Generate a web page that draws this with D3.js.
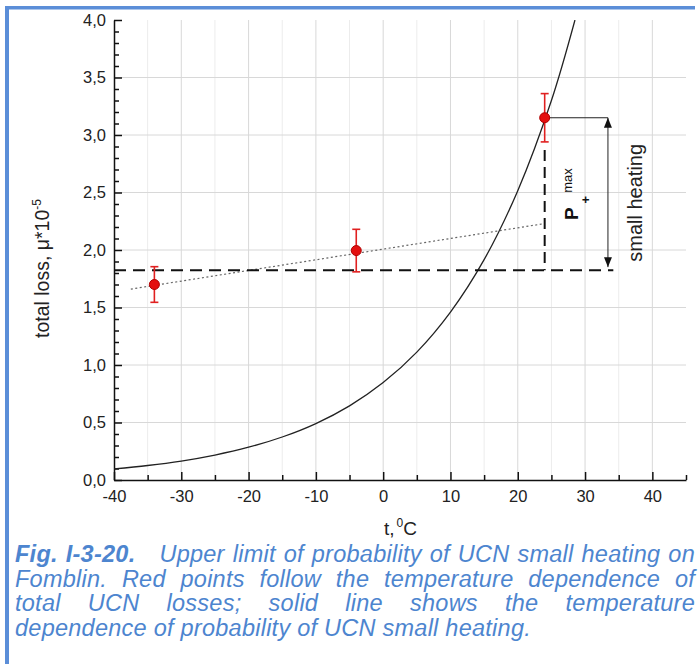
<!DOCTYPE html>
<html>
<head>
<meta charset="utf-8">
<script src="https://cdn.jsdelivr.net/npm/d3@7"></script>
<style>
  body { margin: 0; background: #fff; }
  #chart { position: relative; width: 700px; height: 664px; overflow: hidden; }
  #chart svg { position: absolute; left: 0; top: 0; }
  .caption {
    position: absolute;
    left: 15px;
    top: 542px;
    width: 680px;
    color: #4d85cf;
    font-family: 'Liberation Sans', Arial, sans-serif;
    font-style: italic;
    font-size: 23.5px;
    letter-spacing: 0.25px;
  }
  .caption div { height: 24.5px; line-height: 24.5px; text-align: justify; text-align-last: justify; }
  .caption div.last { text-align-last: left; }
  .caption b { font-weight: bold; }
  .tick text { font-family: 'Liberation Sans', Arial, sans-serif; font-size: 16.5px; fill: #222; }
</style>
</head>
<body>
<div id="chart"></div>
<script>
// Measured points (temperature, total loss, error).
const temps = [-34, -4, 24];
const losses = [1.70, 1.995, 3.15];
const lossErrors = [0.155, 0.185, 0.21];

// Dotted linear trend through the points.
const fitTemps = [-37.5, 24];
const fitLosses = [1.66, 2.23];

// Probability of small heating (solid curve).
const curveTemps = [-40, -35, -30, -25, -20, -15, -10, -5, 0, 5, 10, 15, 20, 25, 28.5];
const curveValues = [0.096, 0.126, 0.165, 0.217, 0.285, 0.374, 0.491, 0.645, 0.847, 1.112, 1.46, 1.916, 2.516, 3.30, 4.0];

// Upper limit construction.
const limitLevel = 1.825;
const limitEndTemp = 34.2;
const arrowTemp = 33.4;
const limitTopTemp = 24;
const limitTopLoss = 3.15;
const limitDashTop = 2.94;

// Axis ticks.
const xTicks = [-40, -30, -20, -10, 0, 10, 20, 30, 40];
const xMinorTicks = [-35, -25, -15, -5, 5, 15, 25, 35, 45];
const yTicks = [0, 0.5, 1.0, 1.5, 2.0, 2.5, 3.0, 3.5, 4.0];
const yMinorTicks = d3.range(0, 40).map(i => i / 10).filter(v => Math.round(v * 10) % 5 !== 0);

const captionLead = 'Fig. I-3-20.';
const captionLines = [
  '\u00a0\u00a0 Upper limit of probability of UCN small heating on',
  'Fomblin. Red points follow the temperature dependence of',
  'total UCN losses; solid line shows the temperature',
  'dependence of probability of UCN small heating.'
];

function init() {
  let margin = {
    top: 20,
    right: 14,
    bottom: 184,
    left: 114
  },
  width = 700 - margin.left - margin.right,
  height = 664 - margin.top - margin.bottom;

  let root = d3.select('#chart')
               .append('svg')
               .attr('width', 700)
               .attr('height', 664);

  // Blue frame on the page (top and left).
  root.append('rect')
      .attr('x', 5).attr('y', 6)
      .attr('width', 690).attr('height', 3.5)
      .attr('fill', '#5b8ed8');
  root.append('rect')
      .attr('x', 5).attr('y', 6)
      .attr('width', 4).attr('height', 658)
      .attr('fill', '#5b8ed8');

  let defs = root.append('defs');
  defs.append('clipPath')
      .attr('id', 'plot-clip')
      .append('rect')
      .attr('width', width)
      .attr('height', height);
  defs.append('marker')
      .attr('id', 'arrow')
      .attr('viewBox', '0 0 10 8')
      .attr('refX', 10)
      .attr('refY', 4)
      .attr('markerWidth', 10)
      .attr('markerHeight', 8)
      .attr('markerUnits', 'userSpaceOnUse')
      .attr('orient', 'auto-start-reverse')
      .append('path')
      .attr('d', 'M0,0 L10,4 L0,8 z')
      .attr('fill', '#111');

  let svg = root.append('g')
                .attr('transform', `translate(${margin.left},${margin.top})`);

  let x = d3.scaleLinear()
            .domain([-40, 45])
            .range([0, width]);

  let y = d3.scaleLinear()
            .domain([0, 4])
            .range([height, 0]);

  // Grid lines.
  svg.append('g')
     .selectAll('line')
     .data(xTicks.concat(xMinorTicks).filter(d => d > -40 && d < 45))
     .join('line')
     .attr('x1', d => x(d))
     .attr('x2', d => x(d))
     .attr('y1', 0)
     .attr('y2', height)
     .attr('stroke', d => d % 10 === 0 ? '#d8d8d8' : '#ececec')
     .attr('stroke-width', 1);

  svg.append('g')
     .selectAll('line')
     .data(yTicks.filter(d => d > 0 && d < 4))
     .join('line')
     .attr('x1', 0)
     .attr('x2', width)
     .attr('y1', d => y(d))
     .attr('y2', d => y(d))
     .attr('stroke', '#d8d8d8')
     .attr('stroke-width', 1);

  // Minor ticks (inward).
  svg.append('g')
     .attr('transform', `translate(0,${height})`)
     .call(d3.axisBottom(x).tickValues(xMinorTicks).tickSize(-5).tickFormat(''))
     .call(g => g.select('.domain').remove())
     .selectAll('line').attr('stroke', '#111').attr('stroke-width', 1.5);

  svg.append('g')
     .call(d3.axisLeft(y).tickValues(yMinorTicks).tickSize(-5).tickFormat(''))
     .call(g => g.select('.domain').remove())
     .selectAll('line').attr('stroke', '#111').attr('stroke-width', 1.5);

  // Initialize x-axis.
  svg.append('g')
     .attr('transform', `translate(0,${height})`)
     .call(d3.axisBottom(x)
             .tickValues(xTicks)
             .tickSize(-8)
             .tickSizeOuter(0)
             .tickPadding(10)
             .tickFormat(d => String(d)))
     .call(g => g.selectAll('line, path').attr('stroke', '#111').attr('stroke-width', 1.5));

  // Initialize y-axis.
  svg.append('g')
     .call(d3.axisLeft(y)
             .tickValues(yTicks)
             .tickSize(-8)
             .tickSizeOuter(0)
             .tickPadding(8)
             .tickFormat(d => d3.format('.1f')(d).replace('.', ',')))
     .call(g => g.selectAll('line, path').attr('stroke', '#111').attr('stroke-width', 1.5));

  let plot = svg.append('g')
                .attr('clip-path', 'url(#plot-clip)');

  // Heating probability curve.
  let curveLine = d3.line()
                    .x(d => x(d[0]))
                    .y(d => y(d[1]))
                    .curve(d3.curveCatmullRom);

  plot.append('path')
      .datum(curveTemps.map((t, i) => [t, curveValues[i]]))
      .attr('d', curveLine)
      .attr('fill', 'none')
      .attr('stroke', '#222')
      .attr('stroke-width', 1.3);

  // Dotted trend line.
  svg.append('path')
     .datum(fitTemps.map((t, i) => [t, fitLosses[i]]))
     .attr('d', d3.line().x(d => x(d[0])).y(d => y(d[1])))
     .attr('fill', 'none')
     .attr('stroke', '#666')
     .attr('stroke-width', 1.2)
     .attr('stroke-dasharray', '2,2.5');

  // Dashed limit lines.
  svg.append('line')
     .attr('x1', x(-40))
     .attr('x2', x(limitEndTemp))
     .attr('y1', y(limitLevel))
     .attr('y2', y(limitLevel))
     .attr('stroke', '#111')
     .attr('stroke-width', 2)
     .attr('stroke-dasharray', '12,7');

  svg.append('line')
     .attr('x1', x(limitTopTemp))
     .attr('x2', x(limitTopTemp))
     .attr('y1', y(limitDashTop) + 8)
     .attr('y2', y(limitLevel))
     .attr('stroke', '#111')
     .attr('stroke-width', 2)
     .attr('stroke-dasharray', '11,6');

  // Thin leader and double arrow.
  svg.append('line')
     .attr('x1', x(limitTopTemp))
     .attr('x2', x(arrowTemp))
     .attr('y1', y(limitTopLoss))
     .attr('y2', y(limitTopLoss))
     .attr('stroke', '#222')
     .attr('stroke-width', 1);

  svg.append('line')
     .attr('x1', x(arrowTemp))
     .attr('x2', x(arrowTemp))
     .attr('y1', y(limitTopLoss))
     .attr('y2', y(limitLevel) - 3)
     .attr('stroke', '#222')
     .attr('stroke-width', 1)
     .attr('marker-start', 'url(#arrow)')
     .attr('marker-end', 'url(#arrow)');

  // Data points with error bars.
  let points = svg.append('g')
                  .selectAll('g')
                  .data(temps.map((t, i) => ({ t: t, v: losses[i], e: lossErrors[i] })))
                  .join('g')
                  .attr('stroke', '#e02020')
                  .attr('stroke-width', 1.6);

  points.append('line')
        .attr('x1', d => x(d.t)).attr('x2', d => x(d.t))
        .attr('y1', d => y(d.v + d.e)).attr('y2', d => y(d.v - d.e));
  points.append('line')
        .attr('x1', d => x(d.t) - 4).attr('x2', d => x(d.t) + 4)
        .attr('y1', d => y(d.v + d.e)).attr('y2', d => y(d.v + d.e));
  points.append('line')
        .attr('x1', d => x(d.t) - 4).attr('x2', d => x(d.t) + 4)
        .attr('y1', d => y(d.v - d.e)).attr('y2', d => y(d.v - d.e));
  points.append('circle')
        .attr('cx', d => x(d.t))
        .attr('cy', d => y(d.v))
        .attr('r', 5)
        .attr('fill', '#e41010')
        .attr('stroke', '#b00000')
        .attr('stroke-width', 1);

  // P+max annotation.
  let pLabel = svg.append('text')
                  .attr('transform', `translate(${x(28.95)},${y(2.26)}) rotate(-90)`)
                  .attr('font-family', "'Liberation Sans', Arial, sans-serif")
                  .attr('fill', '#111');
  pLabel.append('tspan')
        .attr('font-size', 19)
        .attr('font-weight', 'bold')
        .text('P');
  pLabel.append('tspan')
        .attr('font-size', 13)
        .attr('font-weight', 'bold')
        .attr('dx', 4)
        .attr('dy', 12)
        .text('+');
  pLabel.append('tspan')
        .attr('font-size', 13)
        .attr('dx', 3)
        .attr('dy', -18)
        .text('max');

  svg.append('text')
     .attr('transform', `translate(${x(38.5)},${y(2.41)}) rotate(-90)`)
     .attr('text-anchor', 'middle')
     .attr('font-family', "'Liberation Sans', Arial, sans-serif")
     .attr('font-size', 20)
     .attr('fill', '#222')
     .text('small heating');

  // Axis labels.
  let yLabel = root.append('text')
                   .attr('transform', 'translate(49,338) rotate(-90)')
                   .attr('font-family', "'Liberation Sans', Arial, sans-serif")
                   .attr('font-size', 19.5)
                   .attr('fill', '#222');
  yLabel.append('tspan').text('total loss, \u03bc*10');
  yLabel.append('tspan')
        .attr('font-size', 12)
        .attr('dy', -8)
        .text('-5');

  let xLabel = root.append('text')
                   .attr('x', 384)
                   .attr('y', 535)
                   .attr('font-family', "'Liberation Sans', Arial, sans-serif")
                   .attr('font-size', 19)
                   .attr('fill', '#222');
  xLabel.append('tspan').text('t,');
  xLabel.append('tspan').attr('font-size', 12).attr('dx', 2).attr('dy', -8).text('0');
  xLabel.append('tspan').attr('dy', 8).text('C');

  // Caption.
  let caption = d3.select('#chart')
                  .append('div')
                  .attr('class', 'caption');

  caption.selectAll('div')
         .data(captionLines)
         .join('div')
         .attr('class', (d, i) => i === captionLines.length - 1 ? 'last' : null)
         .each(function(d, i) {
           let line = d3.select(this);
           if (i === 0) {
             line.append('b').text(captionLead);
           }
           line.append('span').text(d);
         });
}

init();
</script>
</body>
</html>
